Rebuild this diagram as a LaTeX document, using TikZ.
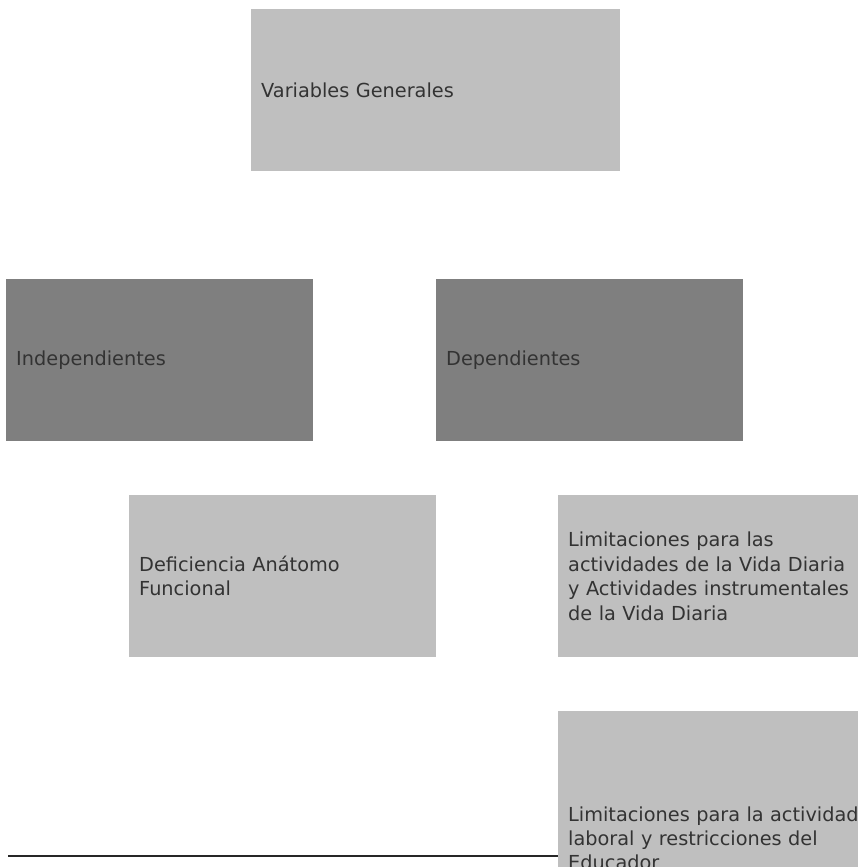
\documentclass[tikz,border=0pt]{standalone}
\usepackage{fontspec}
\setmainfont{DejaVu Sans}
\definecolor{lightbox}{HTML}{BFBFBF}
\definecolor{darkbox}{HTML}{7F7F7F}
\definecolor{txt}{HTML}{333333}
\tikzset{
  box/.style={rectangle, anchor=north west, inner xsep=10pt, inner ysep=0pt,
    minimum height=162pt, align=left, text=txt,
    execute at begin node={\hyphenpenalty=10000\exhyphenpenalty=10000},
    font=\fontsize{19.3}{24.4}\selectfont},
  lightnode/.style={box, fill=lightbox},
  darknode/.style={box, fill=darkbox},
  rule/.style={draw=black!85, line width=1.2pt}
}
\begin{document}
\begin{tikzpicture}[x=1pt,y=-1pt]
\useasboundingbox (0,0) rectangle (858,867);
\clip (0,0) rectangle (858,867);
\node[lightnode, minimum width=369pt, text width=349pt] (vg) at (251,9) {Variables Generales};
\node[darknode, minimum width=307pt, text width=287pt] (ind) at (6,279) {Independientes};
\node[darknode, minimum width=307pt, text width=287pt] (dep) at (436,279) {Dependientes};
\node[lightnode, minimum width=307pt, text width=287pt] (def) at (129,495) {Deficiencia Anátomo\\Funcional};
\node[lightnode, minimum width=307pt, text width=300pt] (lim1) at (558,495) {Limitaciones para las\\actividades de la Vida Diaria\\y Actividades instrumentales\\de la Vida Diaria};
\node[lightnode, minimum width=307pt, text width=300pt, minimum height=254pt] (lim2) at (558,711) {Limitaciones para la actividad\\laboral y restricciones del\\Educador};
\coordinate (lstart) at (8,856);
\draw[rule] (lstart) -- (lstart -| lim2.west);
\end{tikzpicture}
\end{document}
